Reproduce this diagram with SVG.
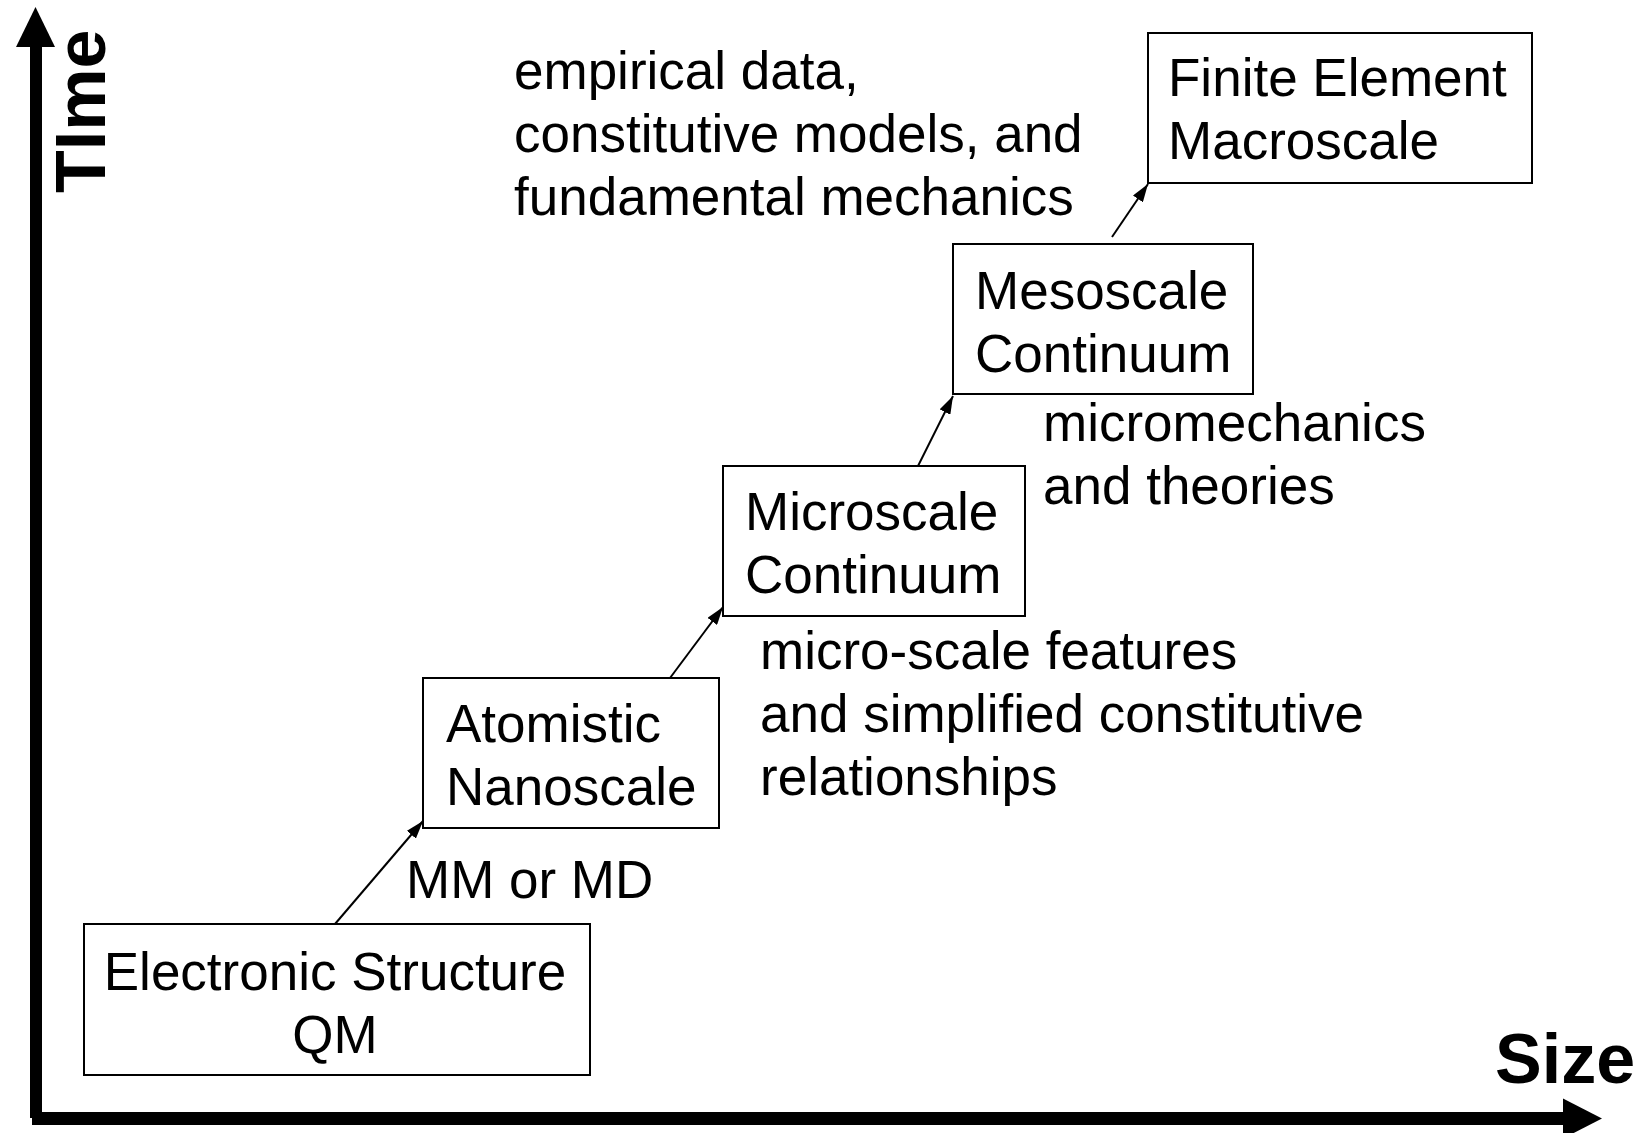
<svg xmlns="http://www.w3.org/2000/svg" width="1641" height="1133" viewBox="0 0 1641 1133">
  <style>
    .box { fill: #ffffff; stroke: #000000; stroke-width: 2; }
    .lbl { font-family: "Liberation Sans", Arial, sans-serif; font-size: 53px; fill: #000000; }
    .axis-lbl { font-family: "Liberation Sans", Arial, sans-serif; font-size: 70px; font-weight: bold; fill: #000000; }
    .link { stroke: #000000; stroke-width: 2; fill: none; marker-end: url(#head); }
  </style>
  <defs>
    <marker id="head" viewBox="0 0 18 12" refX="18" refY="6" markerWidth="18" markerHeight="12" markerUnits="userSpaceOnUse" orient="auto">
      <path d="M0,0 L18,6 L0,12 z" fill="#000000"/>
    </marker>
  </defs>
  <rect width="1641" height="1133" fill="#ffffff"/>

  <!-- axes -->
  <g id="axes" fill="#000000">
    <rect x="30" y="44" width="12" height="1074"/>
    <polygon points="35.5,7 55,47 16,47"/>
    <rect x="32" y="1112" width="1533" height="13"/>
    <polygon points="1602,1118.5 1563,1098.5 1563,1138.5"/>
    <text class="axis-lbl" transform="translate(105,193) rotate(-90)">TIme</text>
    <text class="axis-lbl" x="1495" y="1083">Size</text>
  </g>

  <!-- connectors -->
  <g id="connectors">
    <line class="link" x1="335" y1="924" x2="423" y2="821"/>
    <line class="link" x1="670" y1="678" x2="723" y2="607"/>
    <line class="link" x1="918" y1="466" x2="953" y2="396"/>
    <line class="link" x1="1112" y1="237" x2="1148" y2="184"/>
  </g>

  <g id="node-electronic">
    <rect class="box" x="84" y="924" width="506" height="151"/>
    <text class="lbl" x="335" y="990" text-anchor="middle">Electronic Structure</text>
    <text class="lbl" x="335" y="1053" text-anchor="middle">QM</text>
  </g>

  <g id="node-atomistic">
    <rect class="box" x="423" y="678" width="296" height="150"/>
    <text class="lbl" x="446" y="742">Atomistic</text>
    <text class="lbl" x="446" y="805">Nanoscale</text>
  </g>

  <g id="node-microscale">
    <rect class="box" x="723" y="466" width="302" height="150"/>
    <text class="lbl" x="745" y="530">Microscale</text>
    <text class="lbl" x="745" y="593">Continuum</text>
  </g>

  <g id="node-mesoscale">
    <rect class="box" x="953" y="244" width="300" height="150"/>
    <text class="lbl" x="975" y="309">Mesoscale</text>
    <text class="lbl" x="975" y="372">Continuum</text>
  </g>

  <g id="node-finite">
    <rect class="box" x="1148" y="33" width="384" height="150"/>
    <text class="lbl" x="1168" y="96">Finite Element</text>
    <text class="lbl" x="1168" y="159">Macroscale</text>
  </g>

  <!-- annotations -->
  <g id="annotations">
    <text class="lbl" x="406" y="898">MM or MD</text>
    <text class="lbl" x="760" y="669">micro-scale features</text>
    <text class="lbl" x="760" y="732">and simplified constitutive</text>
    <text class="lbl" x="760" y="795">relationships</text>
    <text class="lbl" x="1043" y="441">micromechanics</text>
    <text class="lbl" x="1043" y="504">and theories</text>
    <text class="lbl" x="514" y="89">empirical data,</text>
    <text class="lbl" x="514" y="152">constitutive models, and</text>
    <text class="lbl" x="514" y="215">fundamental mechanics</text>
  </g>
</svg>
